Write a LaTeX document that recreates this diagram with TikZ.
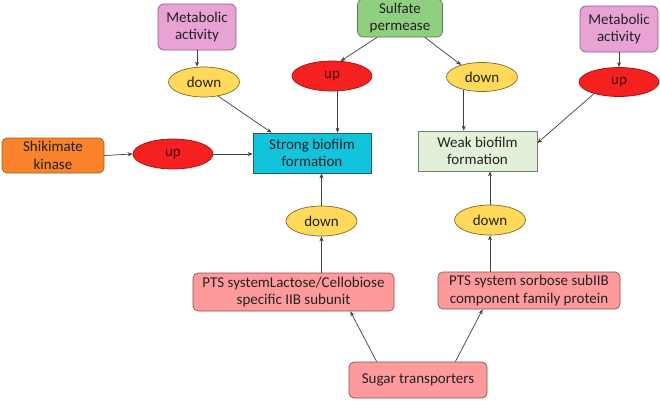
\documentclass[tikz,border=0pt]{standalone}
\usepackage{fontspec}
\setmainfont{Carlito}
\usetikzlibrary{shapes.geometric,arrows.meta}
\definecolor{metfill}{HTML}{E8A3D4}
\definecolor{metdraw}{HTML}{8B5E7E}
\definecolor{sulfill}{HTML}{8FCF80}
\definecolor{suldraw}{HTML}{5B7A52}
\definecolor{yelfill}{HTML}{FFD95A}
\definecolor{yeldraw}{HTML}{7F6A2A}
\definecolor{redfill}{HTML}{F52020}
\definecolor{reddraw}{HTML}{A01010}
\definecolor{redtext}{HTML}{4A0A0A}
\definecolor{orafill}{HTML}{F9822B}
\definecolor{oradraw}{HTML}{A0601E}
\definecolor{cyafill}{HTML}{12C3DC}
\definecolor{cyadraw}{HTML}{215F6E}
\definecolor{grnfill}{HTML}{E2F0D9}
\definecolor{grndraw}{HTML}{6F7F6F}
\definecolor{salfill}{HTML}{FF9A9C}
\definecolor{saldraw}{HTML}{8C5050}
\definecolor{txt}{HTML}{222222}
\definecolor{lin}{HTML}{404040}
\begin{document}
\begin{tikzpicture}[x=1pt,y=-1pt,
  font=\fontsize{15}{17.5}\selectfont,
  every node/.style={text=txt, align=center, inner sep=0pt, line width=0.7pt},
  rbox/.style={draw, rectangle, rounded corners=6pt},
  sbox/.style={draw, rectangle},
  downell/.style={draw=yeldraw, fill=yelfill, ellipse, minimum width=71pt, minimum height=30pt},
  upell/.style={draw=reddraw, fill=redfill, ellipse, minimum width=80pt, minimum height=30pt, text=redtext},
  arr/.style={draw=lin, line width=0.7pt, -{Stealth[length=5pt,width=4pt]}}]
\useasboundingbox[fill=white] (0,0) rectangle (660,400);
% nodes
\node[rbox, draw=metdraw, fill=metfill, minimum width=78pt, minimum height=46pt] (metL) at (197,27) {Metabolic\\activity};
\node[rbox, draw=metdraw, fill=metfill, minimum width=78pt, minimum height=46pt] (metR) at (619,29) {Metabolic\\activity};
\node[rbox, draw=suldraw, fill=sulfill, minimum width=85pt, minimum height=38pt] (sulf) at (400,18) {Sulfate\\permease};
\node[downell] (downL) at (204,82) {down};
\node[upell] (upM) at (332,76) {up};
\node[downell, minimum height=29pt] (downR) at (482,77) {down};
\node[upell, minimum height=29pt] (upR) at (619,82) {up};
\node[rbox, rounded corners=5pt, draw=oradraw, fill=orafill, minimum width=102pt, minimum height=35pt] (shik) at (53,155.5) {Shikimate\\kinase};
\node[upell] (upL) at (173,154) {up};
\node[sbox, draw=cyadraw, fill=cyafill, minimum width=118pt, minimum height=40pt] (strong) at (312,153) {Strong biofilm\\formation};
\node[sbox, draw=grndraw, fill=grnfill, minimum width=119pt, minimum height=40pt] (weak) at (477.5,151) {Weak biofilm\\formation};
\node[downell] (downB) at (321.5,221) {down};
\node[downell] (downC) at (490,220) {down};
\node[rbox, rounded corners=5pt, draw=saldraw, fill=salfill, minimum width=201pt, minimum height=38pt] (ptsL) at (293.5,292) {PTS systemLactose/Cellobiose\\specific IIB subunit};
\node[rbox, rounded corners=5pt, draw=saldraw, fill=salfill, minimum width=182pt, minimum height=37pt] (ptsR) at (529,290.5) {PTS system sorbose subIIB\\component family protein};
\node[rbox, rounded corners=5pt, draw=saldraw, fill=salfill, minimum width=138pt, minimum height=36pt] (sugar) at (418,380) {Sugar transporters};
% connectors
\draw[arr] (metL.south) -- (metL.south |- downL.north);
\draw[arr] (downL.-45) -- ([xshift=19pt]strong.north west);
\draw[arr] (shik.east) -- (upL.west);
\draw[arr] (upL.east) -- (upL.east -| strong.west);
\draw[arr] ([xshift=20pt]sulf.south west) -- (upM.60);
\draw[arr] ([xshift=-18pt]sulf.south east) -- (downR.150);
\draw[arr] (upM.-70) -- (upM.-70 |- strong.north);
\draw[arr] (downR.215) -- (downR.215 |- weak.north);
\draw[arr] (metR.south) -- (upR.north);
\draw[arr] (upR.205) -- ([yshift=8pt]weak.east);
\draw[arr] (downB.south |- ptsL.north) -- (downB.south);
\draw[arr] (downB.north) -- (downB.north |- strong.south);
\draw[arr] (downC.south |- ptsR.north) -- (downC.south);
\draw[arr] (downC.north) -- (downC.north |- weak.south);
\draw[arr] ([xshift=28pt]sugar.north west) -- ([xshift=-44pt]ptsL.south east);
\draw[arr] ([xshift=-32pt]sugar.north east) -- ([xshift=45pt]ptsR.south west);
\end{tikzpicture}
\end{document}
